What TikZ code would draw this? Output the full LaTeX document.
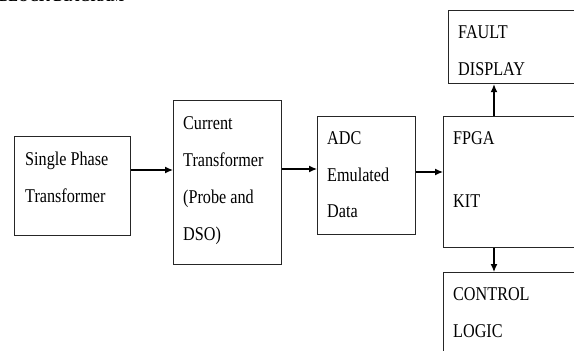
\documentclass[tikz,border=0pt]{standalone}
\usepackage{fontspec}
\setmainfont[FakeStretch=0.83]{Liberation Serif}
\usetikzlibrary{arrows.meta}
\begin{document}
\begin{tikzpicture}[x=1pt,y=-1pt,
  blk/.style={draw=black!85,line width=1.2pt,rectangle,inner sep=0pt,anchor=north west},
  txt/.style={anchor=base west,inner sep=0pt,font=\fontsize{19.5}{37}\selectfont,text=black},
  conn/.style={line width=1.2pt,-{Latex[length=8pt,width=7pt]}}]
\useasboundingbox (0,0) rectangle (574,351);
\clip (0,0) rectangle (574,351);
\fill[white] (0,0) rectangle (574,351);
\node[anchor=base west,inner sep=0pt,font=\fontsize{17}{20}\bfseries\selectfont] (title) at (-1,1) {BLOCK DIAGRAM};
% boxes
\node[blk,minimum width=116pt,minimum height=99pt] (spt) at (14,136) {};
\node[blk,minimum width=108pt,minimum height=164pt] (ct) at (173,100) {};
\node[blk,minimum width=98pt,minimum height=118pt] (adc) at (317,116) {};
\node[blk,minimum width=160pt,minimum height=131pt] (fpga) at (443,116) {};
\node[blk,minimum width=160pt,minimum height=73pt] (fd) at (448,10) {};
\node[blk,minimum width=160pt,minimum height=120pt] (cl) at (443,272) {};
% texts
\node[txt] (t1a) at (25,165) {Single Phase};
\node[txt] (t1b) at (25,202) {Transformer};
\node[txt] (t2a) at (183,129) {Current};
\node[txt] (t2b) at (183,166) {Transformer};
\node[txt] (t2c) at (183,203) {(Probe and};
\node[txt] (t2d) at (183,240) {DSO)};
\node[txt] (t3a) at (327,144) {ADC};
\node[txt] (t3b) at (327,181) {Emulated};
\node[txt] (t3c) at (327,217) {Data};
\node[txt] (t4a) at (453,144) {FPGA};
\node[txt] (t4b) at (453,207) {KIT};
\node[txt] (t5a) at (458,38) {FAULT};
\node[txt] (t5b) at (458,75) {DISPLAY};
\node[txt] (t6a) at (453,300) {CONTROL};
\node[txt] (t6b) at (453,337) {LOGIC};
% connectors
\draw[conn] (spt.east |- 0,170) -- (ct.west |- 0,170);
\draw[conn] (ct.east |- 0,169) -- (adc.west |- 0,169);
\draw[conn] (adc.east |- 0,172) -- (fpga.west |- 0,172);
\draw[conn] (fpga.north -| 494,0) -- (fd.south -| 494,0);
\draw[conn] (fpga.south -| 494,0) -- (cl.north -| 494,0);
\end{tikzpicture}
\end{document}
